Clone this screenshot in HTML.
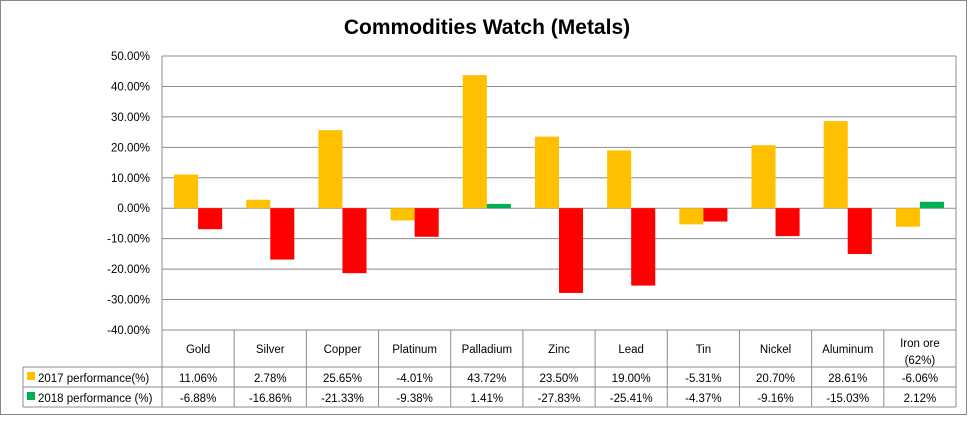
<!DOCTYPE html>
<html><head><meta charset="utf-8"><style>
body{margin:0;background:#fff;font-family:"Liberation Sans",sans-serif}
svg text{font-family:"Liberation Sans",sans-serif}
</style></head><body>
<svg id="c" width="972" height="416" xmlns="http://www.w3.org/2000/svg"></svg>
<script>
const categories=["Gold","Silver","Copper","Platinum","Palladium","Zinc","Lead","Tin","Nickel","Aluminum","Iron ore|(62%)"];
const s2017=[11.06,2.78,25.65,-4.01,43.72,23.50,19.00,-5.31,20.70,28.61,-6.06];
const s2018=[-6.88,-16.86,-21.33,-9.38,1.41,-27.83,-25.41,-4.37,-9.16,-15.03,2.12];
const ticks=[50,40,30,20,10,0,-10,-20,-30,-40];
const svg=document.getElementById('c');const NS="http://www.w3.org/2000/svg";
function mk(t,a,p){const e=document.createElementNS(NS,t);for(const k in a)e.setAttribute(k,a[k]);(p||svg).appendChild(e);return e;}
const L=162,R=956,T=56,B=330,vmax=50,vmin=-40;
const y=v=>T+(vmax-v)/(vmax-vmin)*(B-T);
const cw=(R-L)/categories.length;
const x=i=>L+i*cw;
let e=mk('rect',{x:0.5,y:0.5,width:966,height:414,fill:'#fff',stroke:'#888'});

e=mk('text',{x:487,y:34,'text-anchor':'middle','font-size':21,'font-weight':'bold',fill:'#000'});e.textContent='Commodities Watch (Metals)';

ticks.forEach(t=>{
 let g=mk('line',{x1:L,x2:R,y1:y(t),y2:y(t),stroke:'#8c8c8c'});
 
 let tx=mk('text',{x:150,y:y(t)+4,'text-anchor':'end','font-size':11.5,fill:'#000'});tx.textContent=t.toFixed(2)+'%';
 
});
const bw=cw/3;
categories.forEach((c,i)=>{
 const a=s2017[i],b=s2018[i];
 let r=mk('rect',{x:x(i)+cw/6,y:Math.min(y(a),y(0)),width:bw,height:Math.abs(y(a)-y(0)),fill:'#ffc000'});
 
 r=mk('rect',{x:x(i)+cw/6+bw,y:Math.min(y(b),y(0)),width:bw,height:Math.abs(y(b)-y(0)),fill:b<0?'#ff0000':'#00b050'});
 
});
mk('line',{x1:L,x2:L,y1:T,y2:B,stroke:'#8c8c8c'});
mk('line',{x1:R,x2:R,y1:T,y2:B,stroke:'#8c8c8c'});
const r0=330,r1=367,r2=387,r3=407,lx=23;
const st={stroke:'#8c8c8c'};
mk('line',{x1:L,x2:R,y1:r0,y2:r0,...st});
[r1,r2,r3].forEach(v=>mk('line',{x1:lx,x2:R,y1:v,y2:v,...st}));
mk('line',{x1:lx,x2:lx,y1:r1,y2:r3,...st});
for(let i=0;i<=categories.length;i++)mk('line',{x1:x(i),x2:x(i),y1:r0,y2:r3,...st});
categories.forEach((c,i)=>{
 const parts=c.split('|');const cx=x(i)+cw/2;
 parts.forEach((p,k)=>{let t=mk('text',{x:cx,y:(parts.length>1?r0+17+k*17:r0+23),'text-anchor':'middle','font-size':11.5});t.textContent=p;
 });
 let t=mk('text',{x:cx,y:r1+15,'text-anchor':'middle','font-size':11.5});t.textContent=s2017[i].toFixed(2)+'%';
 
 t=mk('text',{x:cx,y:r2+15,'text-anchor':'middle','font-size':11.5});t.textContent=s2018[i].toFixed(2)+'%';
 
});
let m=mk('rect',{x:27,y:r1+5,width:8,height:8,fill:'#ffc000'});

let t=mk('text',{x:38,y:r1+15,'font-size':11.5});t.textContent='2017 performance(%)';

m=mk('rect',{x:27,y:r2+5,width:8,height:8,fill:'#00b050'});

t=mk('text',{x:38,y:r2+15,'font-size':11.5});t.textContent='2018 performance (%)';

</script>
</body></html>
